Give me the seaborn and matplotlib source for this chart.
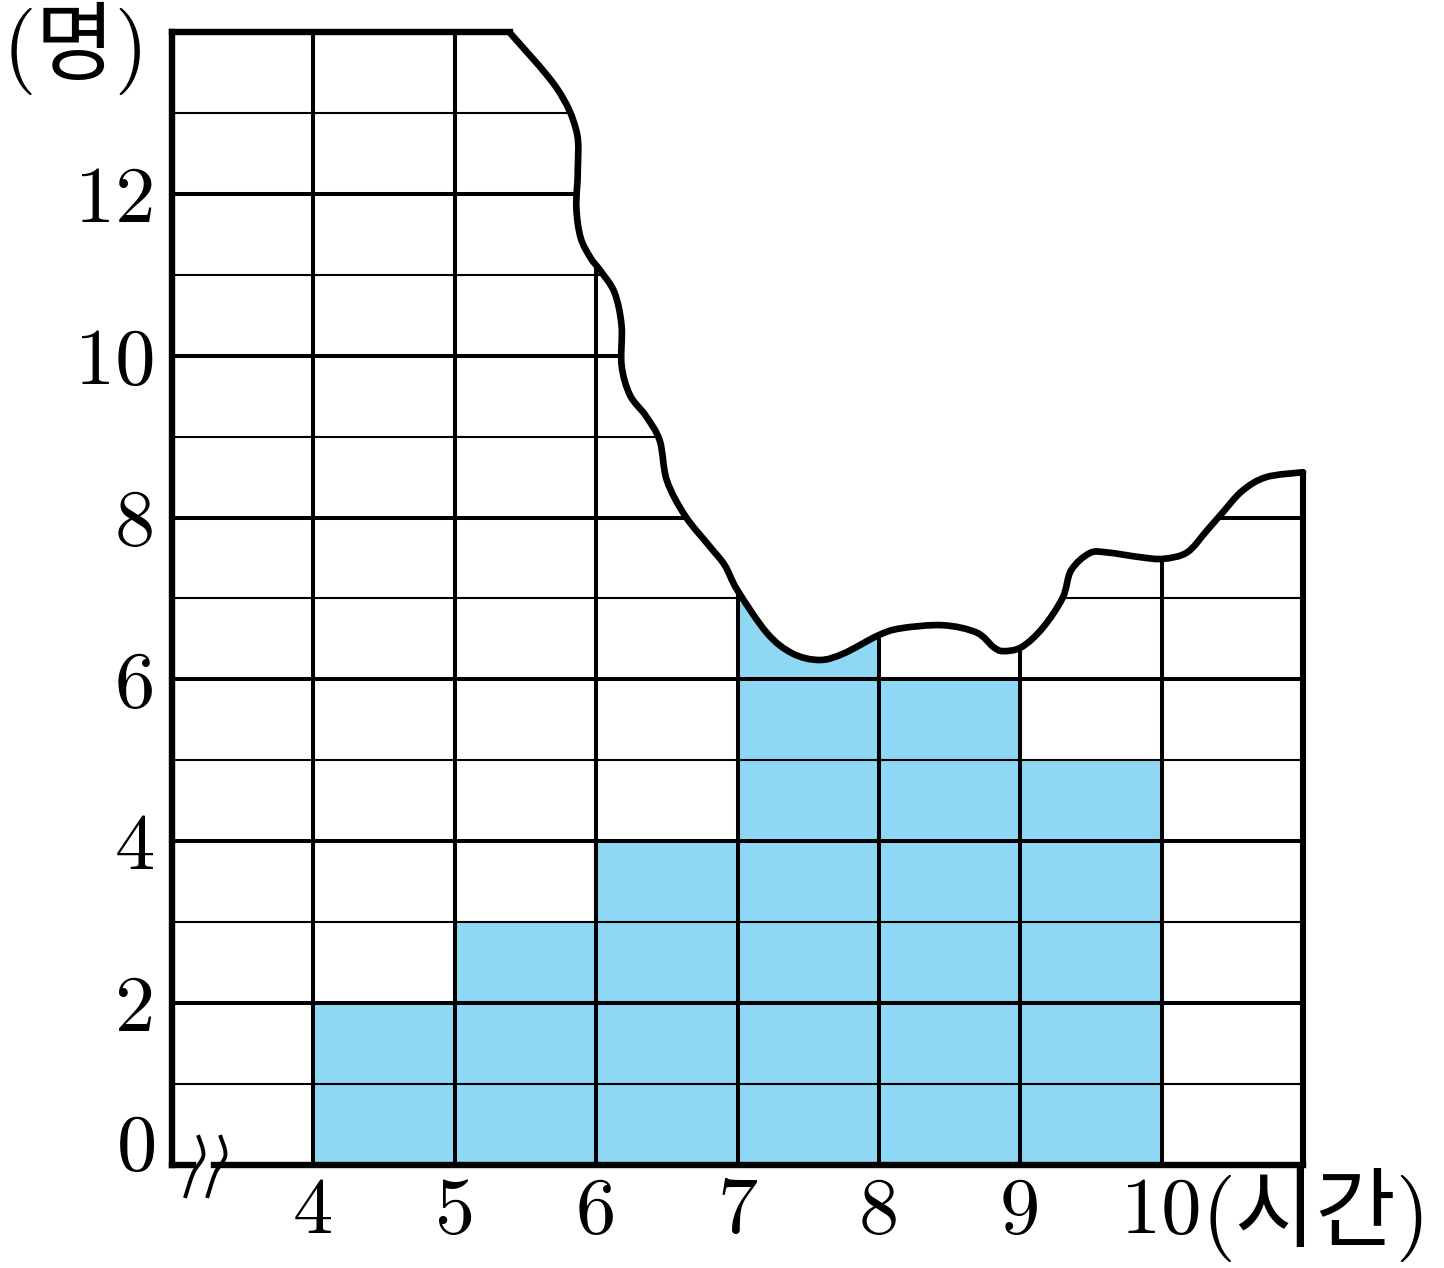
import numpy as np
import pandas as pd
import matplotlib
matplotlib.use("Agg")
import matplotlib.pyplot as plt
from matplotlib.path import Path
from matplotlib.patches import PathPatch
import seaborn as sns

# %% data

bin_edges = [4, 5, 6, 7, 8, 9, 10]
counts = [2, 3, 4, 8, 6, 5]          # 7-8 bar is hidden by the torn part
y_ticks = [0, 2, 4, 6, 8, 10, 12]
x_ticks = [4, 5, 6, 7, 8, 9, 10]
y_label = "(명)"
x_label = "(시간)"

# torn edge of the paper (data coords)
tear_x = [5.39, 5.72, 5.86, 5.87, 5.86, 5.89, 5.96, 6.03, 6.13, 6.18, 6.18, 6.24,
          6.35, 6.45, 6.50, 6.63, 6.80, 6.91, 7.00, 7.21, 7.39, 7.58, 7.75, 7.99,
          8.15, 8.45, 8.69, 8.81, 8.88, 9.01, 9.16, 9.30, 9.36, 9.49, 9.61, 9.85,
          10.01, 10.18, 10.32, 10.43, 10.57, 10.74, 11.0]
tear_y = [13.99, 13.31, 12.78, 12.28, 11.83, 11.46, 11.21, 11.05, 10.78, 10.37, 9.88, 9.51,
          9.26, 8.95, 8.46, 8.02, 7.65, 7.41, 7.10, 6.57, 6.32, 6.24, 6.32, 6.54,
          6.63, 6.67, 6.58, 6.40, 6.35, 6.40, 6.64, 7.01, 7.35, 7.56, 7.57, 7.51,
          7.49, 7.57, 7.84, 8.06, 8.33, 8.50, 8.56]

df = pd.DataFrame({"hours": [(a + b) / 2 for a, b in zip(bin_edges[:-1], bin_edges[1:])],
                   "count": counts})


def smooth_path(xs, ys, close=None):
    # catmull-rom through the points, drawn as cubic bezier pieces
    p = np.column_stack([xs, ys]).astype(float)
    pts = np.vstack([p[0], p, p[-1]])
    verts, codes = [tuple(p[0])], [Path.MOVETO]
    for i in range(1, len(pts) - 2):
        p0, p1, p2, p3 = pts[i - 1], pts[i], pts[i + 1], pts[i + 2]
        verts += [tuple(p1 + (p2 - p0) / 6), tuple(p2 - (p3 - p1) / 6), tuple(p2)]
        codes += [Path.CURVE4] * 3
    if close is not None:
        for v in close:
            verts.append(v)
            codes.append(Path.LINETO)
        verts.append(tuple(p[0]))
        codes.append(Path.CLOSEPOLY)
    return Path(verts, codes)


# %% plot

sns.set_theme(style="white")
plt.rcParams["font.family"] = ["cmr10", "Noto Sans CJK KR"]
plt.rcParams["axes.formatter.use_mathtext"] = True
plt.rcParams["text.color"] = "black"
plt.rcParams["xtick.color"] = "black"
plt.rcParams["ytick.color"] = "black"

fig = plt.figure(figsize=(14.44, 12.68), dpi=100)
ax = fig.add_axes([0.1191, 0.0812, 0.7833, 0.8936])

sns.histplot(data=df, x="hours", weights="count", bins=bin_edges,
             color="#8ed8f6", alpha=1, edgecolor="none", linewidth=0, ax=ax, zorder=1)

x0, x1, top = 3, 11, 14
ax.set_xlim(x0, x1)
ax.set_ylim(0, top)

# grid
for y in range(1, top):
    ax.plot([x0, x1], [y, y], color="black", lw=2.9 if y % 2 == 0 else 1.5,
            zorder=3, solid_capstyle="butt")
for x in x_ticks:
    ax.plot([x, x], [0, top], color="black", lw=2.9, zorder=3, solid_capstyle="butt")
ax.plot([x1, x1], [0, top], color="black", lw=4.4, zorder=3, solid_capstyle="butt",
        clip_on=False)

# torn part: white paper above the edge
paper = smooth_path(tear_x, tear_y,
                    close=[(11.3, tear_y[-1]), (11.3, 14.6), (tear_x[0], 14.6)])
ax.add_patch(PathPatch(paper, facecolor="white", edgecolor="none", zorder=5, clip_on=False))
ax.add_patch(PathPatch(smooth_path(tear_x, tear_y), facecolor="none", edgecolor="black",
                       lw=4.8, zorder=6, clip_on=False, capstyle="round", joinstyle="round"))

# frame
for s in ax.spines.values():
    s.set_visible(False)
ax.plot([x0, x0], [0, top], color="black", lw=4.6, zorder=7, clip_on=False,
        solid_capstyle="projecting")
ax.plot([x0, tear_x[0]], [top, top], color="black", lw=4.6, zorder=7, clip_on=False,
        solid_capstyle="projecting")
ax.plot([x0, 3.15], [0, 0], color="black", lw=4.6, zorder=7, clip_on=False,
        solid_capstyle="projecting")
ax.plot([3.30, x1], [0, 0], color="black", lw=4.6, zorder=7, clip_on=False,
        solid_capstyle="projecting")

# axis break mark
brk_x = np.array([3.184, 3.222, 3.150, 3.092])
brk_y = np.array([0.37, 0.12, -0.10, -0.407])
for dx in (0, 0.156):
    ax.add_patch(PathPatch(smooth_path(brk_x + dx, brk_y), facecolor="none",
                           edgecolor="black", lw=2.8, zorder=8, clip_on=False))

# ticks and labels
ax.set_xticks(x_ticks)
ax.set_xticklabels([str(v) for v in x_ticks])
ax.set_yticks(y_ticks)
ax.set_yticklabels([""] + [str(v) for v in y_ticks[1:]])
ax.tick_params(axis="x", length=0, pad=9, labelsize=58, labelcolor="black")
ax.tick_params(axis="y", length=0, pad=12, labelsize=58, labelcolor="black")
ax.set_xlabel("")
ax.set_ylabel("")
ax.text(2.894, 0.19, "0", fontsize=58, ha="right", va="center")

ax.text(2.32, 13.79, y_label, fontsize=62, ha="center", va="center", clip_on=False)
ax.text(10.28, -0.62, x_label, fontsize=63, ha="left", va="center", clip_on=False)

fig.savefig("out.png", dpi=100)
